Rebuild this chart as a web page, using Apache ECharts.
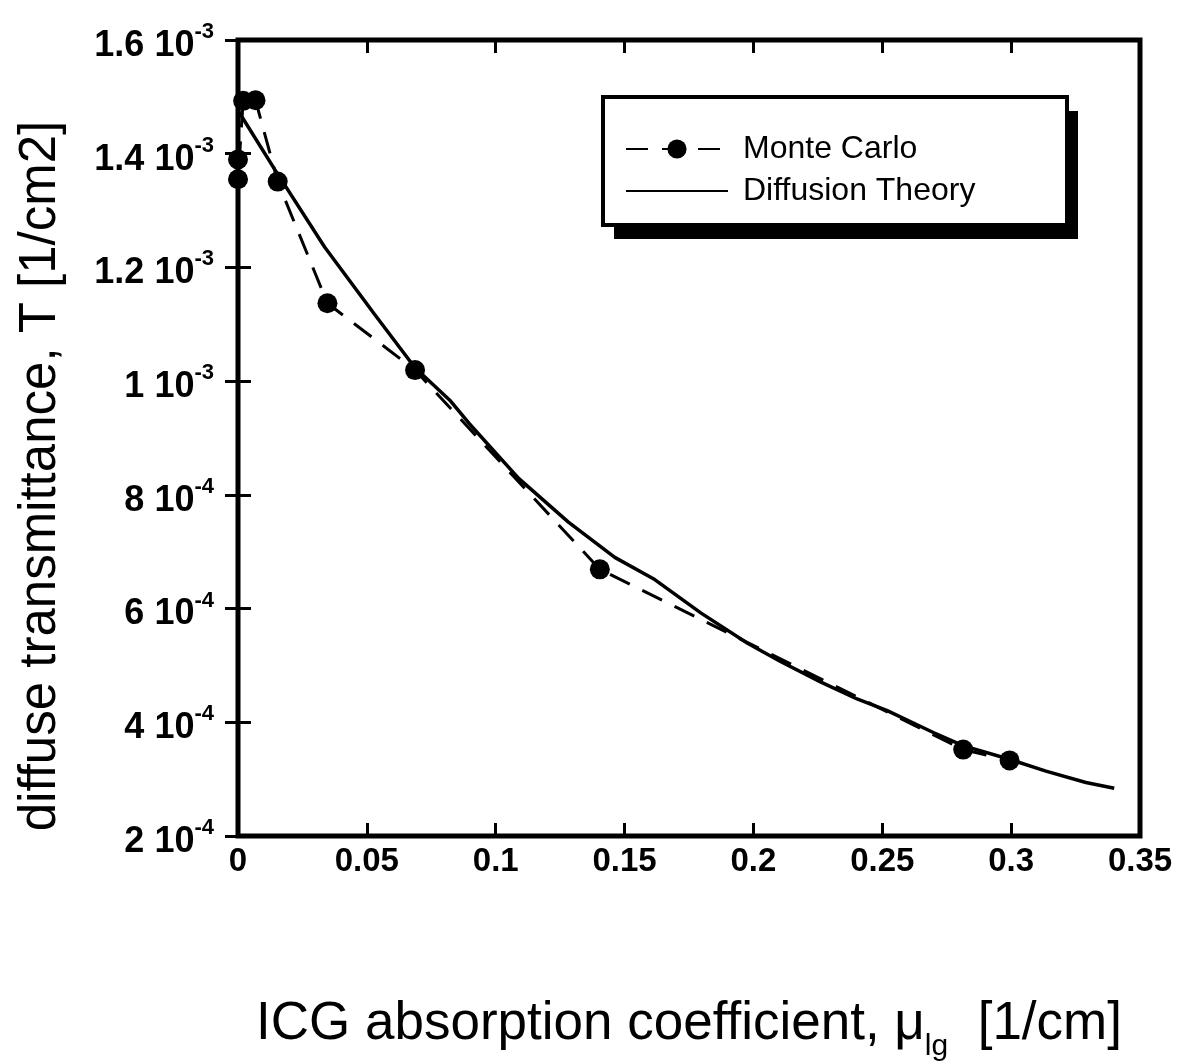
<!DOCTYPE html>
<html><head><meta charset="utf-8">
<script src="https://cdn.jsdelivr.net/npm/echarts@6/dist/echarts.min.js"></script>
<style>html,body{margin:0;padding:0;background:#fff}#c{width:1196px;height:1061px}</style>
</head><body><div id="c"></div>
<script>
// Monte Carlo simulation points
const mcX = [0, 0, 0.002, 0.0068, 0.0154, 0.0347, 0.0687, 0.1404, 0.2814, 0.2994];
const mcY = [1.39e-3, 1.355e-3, 1.493e-3, 1.494e-3, 1.351e-3, 1.137e-3, 1.0195e-3, 6.69e-4, 3.52e-4, 3.33e-4];
// Diffusion theory curve
const dtX = [0, 0.0143, 0.0336, 0.0529, 0.0686, 0.0825, 0.0896, 0.1089, 0.1282, 0.1462, 0.1617, 0.1797, 0.1977, 0.2105, 0.226, 0.2402, 0.2517, 0.2698, 0.2813, 0.2993, 0.3135, 0.329, 0.34];
const dtY = [1.476e-3, 1.372e-3, 1.236e-3, 1.118e-3, 1.024e-3, 9.65e-4, 9.26e-4, 8.29e-4, 7.52e-4, 6.90e-4, 6.51e-4, 5.92e-4, 5.39e-4, 5.07e-4, 4.71e-4, 4.41e-4, 4.21e-4, 3.82e-4, 3.59e-4, 3.35e-4, 3.14e-4, 2.94e-4, 2.84e-4];
// axis settings
const xMin = 0, xMax = 0.35, xStep = 0.05;
const yMin = 2e-4, yMax = 1.6e-3, yStep = 2e-4;
const seriesNames = ['Monte Carlo', 'Diffusion Theory'];
const xTitle = 'ICG absorption coefficient, μ';
const xTitleSub = 'lg';
const xTitleUnit = '  [1/cm]';
const yTitle = 'diffuse transmittance, T [1/cm2]';

const FF = '"Liberation Sans", Arial, Helvetica, sans-serif';

function sciLabel(v) {
  v = +v.toPrecision(6);
  const e = Math.floor(Math.log10(v) + 1e-9);
  const m = +(v / Math.pow(10, e)).toFixed(2);
  return '{m|' + m + ' 10}{s|' + e + '}';
}

const chart = echarts.init(document.getElementById('c'), null, {renderer: 'canvas'});
const tickStyle = {show: true, inside: true, length: 13, lineStyle: {color: '#000', width: 3}};
chart.setOption({
  backgroundColor: '#fff',
  animation: false,
  grid: {left: 238, top: 40, width: 902, height: 796, outerBoundsMode: 'none', containLabel: false,
    show: true, borderColor: '#000', borderWidth: 5, backgroundColor: 'transparent'},
  graphic: [
    {type: 'rect', z: 10, shape: {x: 614, y: 111, width: 464, height: 128}, style: {fill: '#000'}},
    {type: 'rect', z: 11, shape: {x: 603, y: 97, width: 464, height: 128}, style: {fill: '#fff', stroke: '#000', lineWidth: 4}}
  ],
  legend: {
    z: 20,
    left: 603, top: 97, orient: 'vertical',
    data: [{name: seriesNames[0]}, {name: seriesNames[1], itemStyle: {opacity: 0}}],
    itemWidth: 102, itemHeight: 24, itemGap: 10,
    padding: [36, 80, 18, 22],
    backgroundColor: 'transparent', borderWidth: 0,
    textStyle: {fontSize: 32, fontFamily: FF, color: '#000', padding: [0, 0, 0, 10]}
  },
  xAxis: [{
    type: 'value', min: xMin, max: xMax, interval: xStep, position: 'bottom',
    axisLine: {show: false}, splitLine: {show: false}, axisTick: tickStyle,
    axisLabel: {fontSize: 33, fontWeight: 'bold', fontFamily: FF, color: '#000', margin: 9,
      formatter: v => String(+v.toFixed(2))},
    name: '{t|' + xTitle + '}{b|' + xTitleSub + '}{t|' + xTitleUnit + '}',
    nameLocation: 'middle', nameGap: 162,
    nameTextStyle: {rich: {
      t: {fontSize: 53, fontFamily: FF, color: '#000', lineHeight: 58, verticalAlign: 'top'},
      b: {fontSize: 30, fontFamily: FF, color: '#000', lineHeight: 98, verticalAlign: 'middle'}
    }}
  }, {
    type: 'value', min: xMin, max: xMax, interval: xStep, position: 'top',
    axisLine: {show: false}, splitLine: {show: false}, axisTick: tickStyle, axisLabel: {show: false}
  }],
  yAxis: [{
    type: 'value', min: yMin, max: yMax, interval: yStep, position: 'left',
    axisLine: {show: false}, splitLine: {show: false}, axisTick: tickStyle,
    axisLabel: {margin: 24, formatter: sciLabel, padding: [12, 0, 0, 0], rich: {
      m: {fontSize: 36, fontWeight: 'bold', fontFamily: FF, color: '#000', lineHeight: 50},
      s: {fontSize: 22, fontWeight: 'bold', fontFamily: FF, color: '#000', lineHeight: 20, verticalAlign: 'top'}
    }},
    name: yTitle, nameLocation: 'middle', nameGap: 172,
    nameTextStyle: {fontSize: 51, fontFamily: FF, color: '#000', padding: [0, 76, 0, 0]}
  }, {
    type: 'value', min: yMin, max: yMax, interval: yStep, position: 'right',
    axisLine: {show: false}, splitLine: {show: false}, axisTick: tickStyle, axisLabel: {show: false}
  }],
  series: [{
    name: seriesNames[0], type: 'line',
    data: mcX.map((x, i) => [x, mcY[i]]),
    symbol: 'circle', symbolSize: 20,
    lineStyle: {color: '#000', width: 3, type: [22, 14]},
    itemStyle: {color: '#000'}, z: 3
  }, {
    name: seriesNames[1], type: 'line',
    data: dtX.map((x, i) => [x, dtY[i]]),
    symbol: 'none',
    lineStyle: {color: '#000', width: 3.5},
    itemStyle: {color: '#000'}, z: 2
  }]
});
</script>
</body></html>
